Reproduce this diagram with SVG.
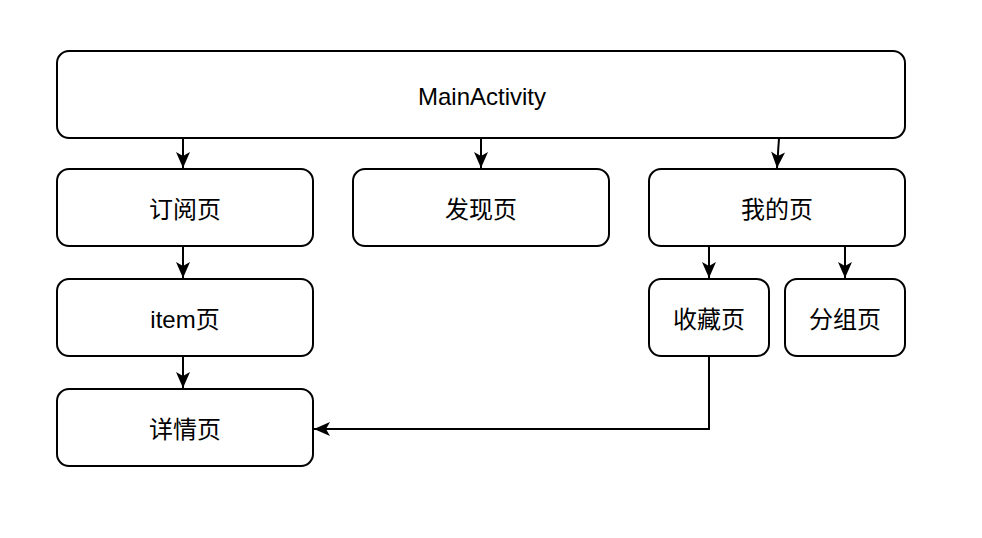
<svg xmlns="http://www.w3.org/2000/svg" width="982" height="538" viewBox="0 0 982 538">
<style>
.n{fill:#fff;stroke:#000;stroke-width:2}
.t{font-family:"Liberation Sans","Noto Sans CJK SC",sans-serif;font-size:24px;fill:#000;text-anchor:middle;dominant-baseline:central}
.e{fill:none;stroke:#000;stroke-width:2}
</style>
<defs>
<marker id="a" markerUnits="userSpaceOnUse" markerWidth="20" markerHeight="20" viewBox="0 0 20 20" refX="17" refY="10" orient="auto">
<path d="M1,3 L17,10 L1,17 L5,10 Z" fill="#000"/>
</marker>
</defs>
<rect width="982" height="538" fill="#fff"/>
<g id="edges">
<path class="e" d="M183,138 L183,168" marker-end="url(#a)"/>
<path class="e" d="M481,138 L481,168" marker-end="url(#a)"/>
<path class="e" d="M779,138 L777,168" marker-end="url(#a)"/>
<path class="e" d="M183,246 L183,278" marker-end="url(#a)"/>
<path class="e" d="M183,356 L183,388" marker-end="url(#a)"/>
<path class="e" d="M709,246 L709,278" marker-end="url(#a)"/>
<path class="e" d="M845,246 L845,278" marker-end="url(#a)"/>
<path class="e" d="M709,356 L709,429 L314,429" marker-end="url(#a)"/>
</g>
<g id="main"><rect class="n" x="57" y="51" width="848" height="87" rx="12"/><text class="t" x="482" y="96">MainActivity</text></g>
<g id="sub"><rect class="n" x="57" y="169" width="256" height="77" rx="12"/><text class="t" x="185" y="209">订阅页</text></g>
<g id="find"><rect class="n" x="353" y="169" width="256" height="77" rx="12"/><text class="t" x="481" y="209">发现页</text></g>
<g id="mine"><rect class="n" x="649" y="169" width="256" height="77" rx="12"/><text class="t" x="777" y="209">我的页</text></g>
<g id="item"><rect class="n" x="57" y="279" width="256" height="77" rx="12"/><text class="t" x="185" y="319">item页</text></g>
<g id="detail"><rect class="n" x="57" y="389" width="256" height="77" rx="12"/><text class="t" x="185" y="429">详情页</text></g>
<g id="fav"><rect class="n" x="649" y="279" width="120" height="77" rx="12"/><text class="t" x="709" y="319">收藏页</text></g>
<g id="group"><rect class="n" x="785" y="279" width="120" height="77" rx="12"/><text class="t" x="845" y="319">分组页</text></g>
</svg>
